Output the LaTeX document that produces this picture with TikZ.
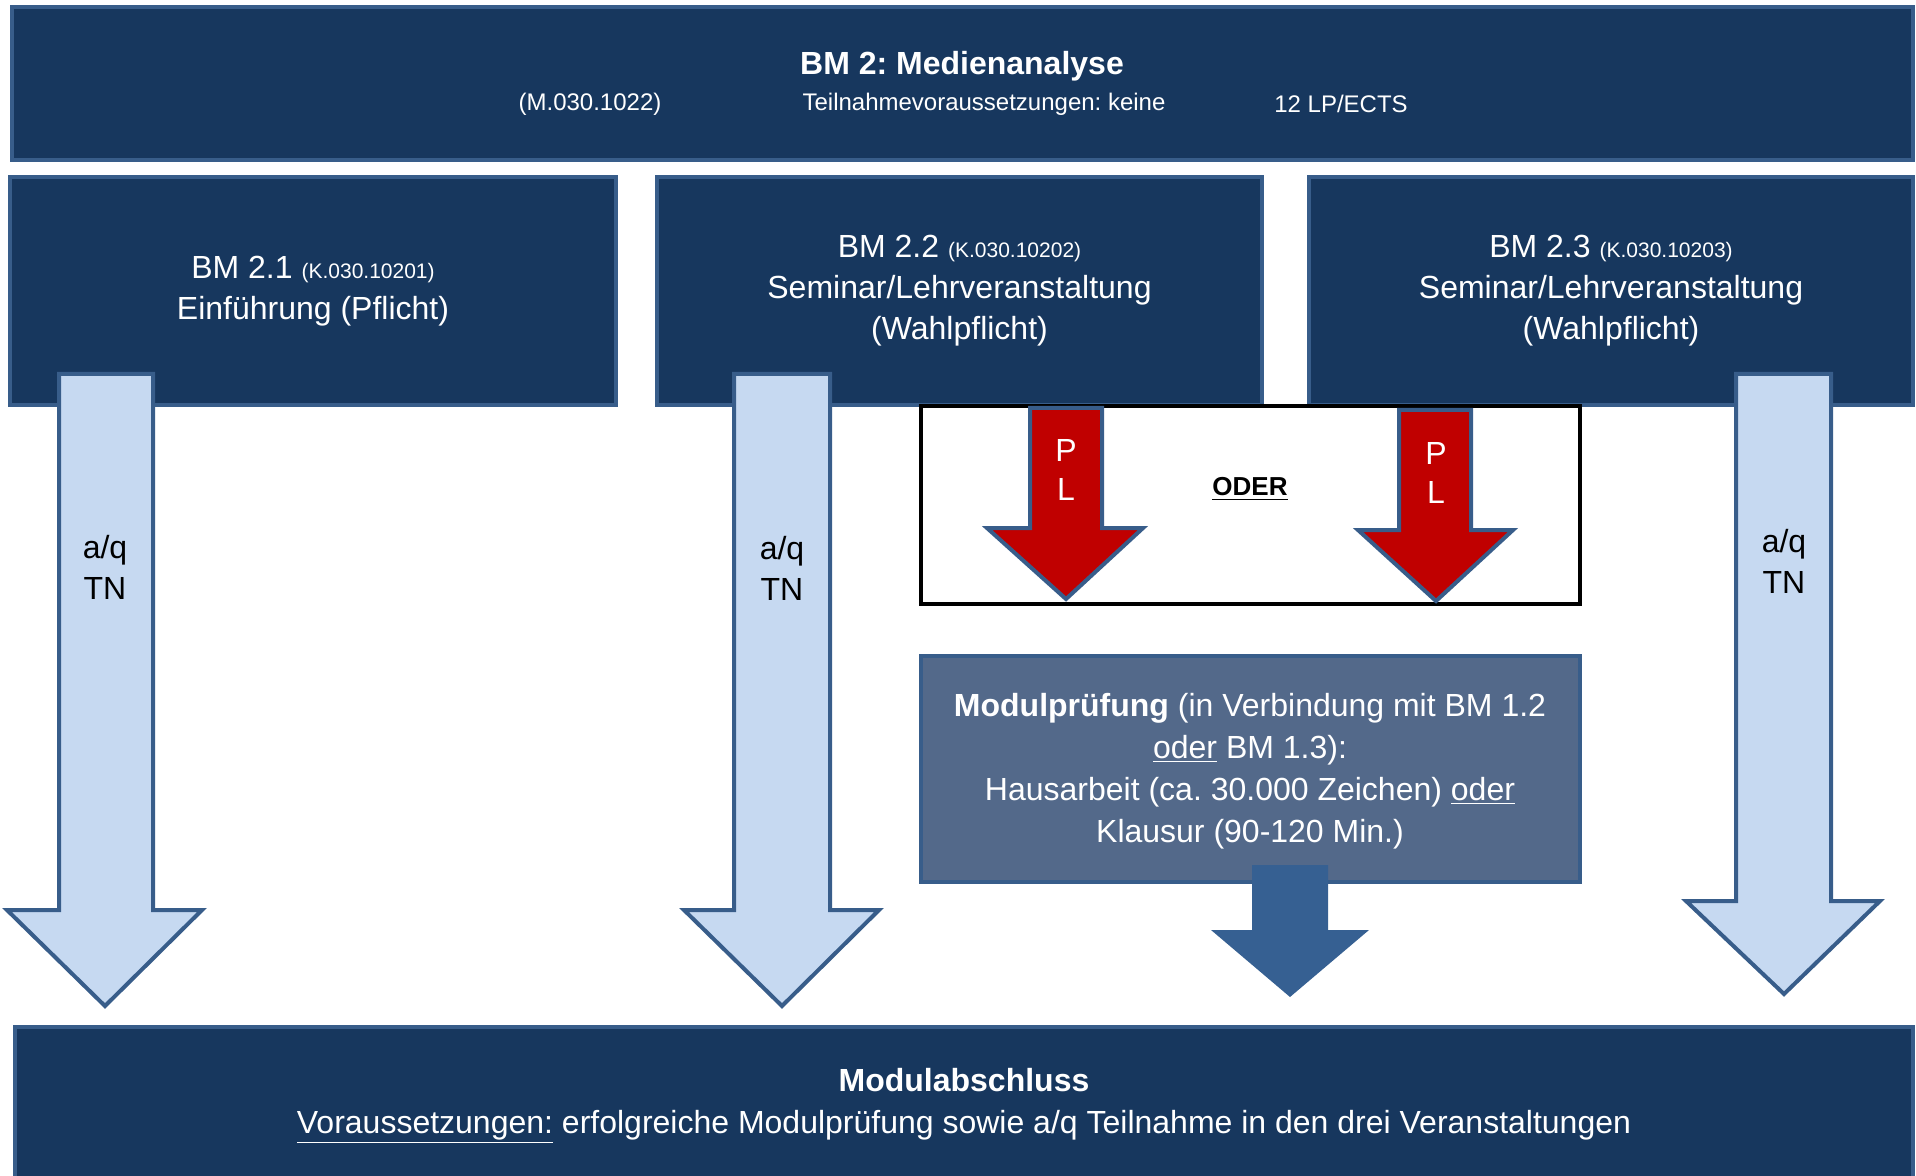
\documentclass[tikz,border=0pt]{standalone}
\usepackage{fontspec}
\setmainfont{Liberation Sans}
\frenchspacing
\definecolor{navy}{HTML}{17375E}
\definecolor{rimblue}{HTML}{385D8A}
\definecolor{paleblue}{HTML}{C6D9F1}
\definecolor{slateblue}{HTML}{53698A}
\definecolor{deepblue}{HTML}{366092}
\definecolor{plred}{HTML}{C00000}
\newcommand{\kfont}{\fontsize{10.5}{12}\selectfont}
\begin{document}
\begin{tikzpicture}[x=0.5pt, y=-0.5pt, font=\fontsize{16}{20.5}\selectfont,
    modbox/.style={draw=rimblue, fill=navy, line width=2pt, text=white, align=center, inner sep=0pt},
    wtext/.style={text=white, align=center, inner sep=0pt},
    tnarrow/.style={draw=rimblue, fill=paleblue, line width=2pt, miter limit=20},
    plarrow/.style={draw=rimblue, fill=plred, line width=2pt, miter limit=20}]
\useasboundingbox (0,0) rectangle (1916,1176);
% module head
\node[modbox, minimum width=950.5pt, minimum height=76.5pt] (head) at (962.5,83.5) {};
\node[wtext, font=\fontsize{16}{20.5}\selectfont\bfseries] (headtitle) at (962,66) {BM 2: Medienanalyse};
\node[wtext, font=\fontsize{12}{14}\selectfont] (headno) at (590,104) {(M.030.1022)};
\node[wtext, font=\fontsize{12}{14}\selectfont] (headreq) at (984,104) {Teilnahmevoraussetzungen: keine};
\node[wtext, font=\fontsize{12}{14}\selectfont] (headlp) at (1341,104) {12 LP/ECTS};
% the three courses
\node[modbox, minimum width=303pt, minimum height=114pt] (bm21) at (313,291)
    {BM 2.1 {\kfont (K.030.10201)}\\Einführung (Pflicht)};
\node[modbox, minimum width=302.5pt, minimum height=114pt] (bm22) at (959.5,291)
    {BM 2.2 {\kfont (K.030.10202)}\\Seminar/Lehrveranstaltung\\(Wahlpflicht)};
\node[modbox, minimum width=302pt, minimum height=114pt] (bm23) at (1611,291)
    {BM 2.3 {\kfont (K.030.10203)}\\Seminar/Lehrveranstaltung\\(Wahlpflicht)};
% either - or
\node[draw=black, fill=white, line width=2pt, minimum width=329.5pt, minimum height=99pt] (oder) at (1250.5,505) {};
\node[inner sep=0pt, font=\fontsize{13}{15}\selectfont\bfseries] (odertext) at (1250,489) {\underline{ODER}};
% a/q TN arrows
\filldraw[tnarrow] (59,374) -- (153,374) -- (153,910) -- (202,910) -- (105,1006) -- (7,910) -- (59,910) -- cycle;
\filldraw[tnarrow] (734,374) -- (830,374) -- (830,910) -- (879,910) -- (782,1006) -- (684,910) -- (734,910) -- cycle;
\filldraw[tnarrow] (1736,374) -- (1831,374) -- (1831,901) -- (1880,901) -- (1784,994) -- (1686,901) -- (1736,901) -- cycle;
\node[align=center, inner sep=0pt] (tn1) at (105,567) {a/q\\TN};
\node[align=center, inner sep=0pt] (tn2) at (782,568) {a/q\\TN};
\node[align=center, inner sep=0pt] (tn3) at (1784,561) {a/q\\TN};
% PL arrows
\filldraw[plarrow] (1030,408) -- (1102,408) -- (1102,528) -- (1143,528) -- (1066,599) -- (987,528) -- (1030,528) -- cycle;
\filldraw[plarrow] (1399,410) -- (1471,410) -- (1471,530) -- (1513,530) -- (1436,601) -- (1358,530) -- (1399,530) -- cycle;
\node[wtext, font=\fontsize{16}{19.5}\selectfont] (pl1) at (1066,470) {P\\L};
\node[wtext, font=\fontsize{16}{19.5}\selectfont] (pl2) at (1436,473) {P\\L};
% exam
\node[draw=rimblue, fill=slateblue, line width=2pt, minimum width=329.5pt, minimum height=113pt] (exam) at (1250.5,769) {};
\node[wtext, font=\fontsize{16}{21}\selectfont] (examtext) at (1250,771)
    {\textbf{Modulprüfung} (in Verbindung mit BM 1.2\\\underline{oder} BM 1.3):\\Hausarbeit (ca. 30.000 Zeichen) \underline{oder}\\Klausur (90-120 Min.)};
\fill[deepblue] (1252,865) -- (1328,865) -- (1328,930) -- (1369,930) -- (1290,997) -- (1211,930) -- (1252,930) -- cycle;
% completion
\node[modbox, minimum width=949pt, minimum height=81.5pt] (done) at (964,1108.5) {};
\node[wtext, font=\fontsize{16}{21}\selectfont] (donetext) at (964,1106)
    {\textbf{Modulabschluss}\\\underline{Voraussetzungen:} erfolgreiche Modulprüfung sowie a/q Teilnahme in den drei Veranstaltungen};
\end{tikzpicture}
\end{document}
